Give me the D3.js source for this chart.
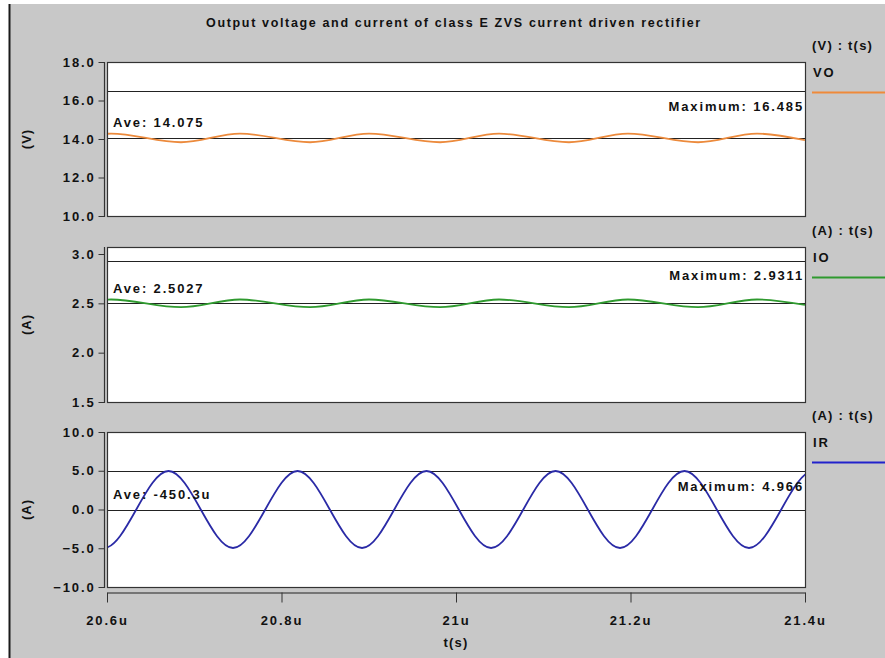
<!DOCTYPE html>
<html>
<head>
<meta charset="utf-8">
<script src="https://cdn.jsdelivr.net/npm/d3@7"></script>
<style>
  html, body { margin: 0; padding: 0; background: #ffffff; }
  svg { display: block; }
  text { font-family: "Liberation Sans", Arial, Helvetica, sans-serif; font-weight: bold; fill: #111; }
</style>
</head>
<body>
<svg id="chart" width="885" height="658"></svg>
<script>
// ---- data ----
const chartTitle = "Output voltage and current of class E ZVS current driven rectifier";
const timeTicks = [20.6, 20.8, 21.0, 21.2, 21.4];          // microseconds
const timeTickLabels = ["20.6u", "20.8u", "21u", "21.2u", "21.4u"];
const timeAxisTitle = "t(s)";

const voTicks = [10, 12, 14, 16, 18];
const ioTicks = [1.5, 2.0, 2.5, 3.0];
const irTicks = [-10, -5, 0, 5, 10];

// output ripple: start, alternating maxima / minima, end (us)
const rippleTime = [20.6, 20.6046, 20.6848, 20.7524, 20.8327, 20.9003, 20.9817,
                    21.0493, 21.1295, 21.1971, 21.2774, 21.3450, 21.4];
const voValue = [14.27, 14.28, 13.83, 14.28, 13.83, 14.28, 13.83,
                 14.28, 13.83, 14.28, 13.83, 14.28, 13.94];
const ioValue = [2.537, 2.539, 2.461, 2.539, 2.461, 2.539, 2.461,
                 2.539, 2.461, 2.539, 2.461, 2.539, 2.485];

// rectifier input current: alternating crests / troughs (us), one extra each side of the window
const irTime = [20.5227, 20.5966, 20.6705, 20.7444, 20.8184, 20.8923, 20.9662, 21.0402,
                21.1141, 21.1880, 21.2619, 21.3358, 21.4097, 21.4836];
const irValue = [4.966, -4.966, 4.966, -4.966, 4.966, -4.966, 4.966, -4.966,
                 4.966, -4.966, 4.966, -4.966, 4.966, -4.966];

const traceNames = ["VO", "IO", "IR"];
const unitLabels = ["(V)", "(A)", "(A)"];
const legendHeaders = ["(V) : t(s)", "(A) : t(s)", "(A) : t(s)"];
const aveValues = [14.075, 2.5027, -450.3e-6];
const aveLabels = ["Ave: 14.075", "Ave: 2.5027", "Ave: -450.3u"];
const maxValues = [16.485, 2.9311, 4.966];
const maxLabels = ["Maximum: 16.485", "Maximum: 2.9311", "Maximum: 4.966"];
const traceColors = ["#ec8a3c", "#2f9a2f", "#2a2aa6"];
const legendColors = ["#ef8a3a", "#2f9a2f", "#2222cc"];

// ---- layout ----
const W = 885, H = 658;
const plotLeft = 107, plotRight = 805;
const panels = [
  { top: 62,  bottom: 216, domain: [10, 18],   range: [216, 62],  ticks: voTicks, time: rippleTime, values: voValue },
  { top: 247, bottom: 402, domain: [1.5, 3.0], range: [402, 254], ticks: ioTicks, time: rippleTime, values: ioValue },
  { top: 432, bottom: 587, domain: [-10, 10],  range: [587, 432], ticks: irTicks, time: irTime,     values: irValue }
];

const svg = d3.select("#chart");
const LS = "1.85px";

// window frame
svg.append("rect").attr("x", 10).attr("y", 4).attr("width", W - 10).attr("height", H - 4)
  .attr("fill", "#c8c8c8");
svg.append("line").attr("x1", 9.5).attr("x2", 9.5).attr("y1", 4).attr("y2", H)
  .attr("stroke", "#1a1a1a").attr("stroke-width", 2);

// title
svg.append("text").attr("x", 454).attr("y", 27).attr("text-anchor", "middle")
  .attr("font-size", "12.5px").style("letter-spacing", "1.65px").text(chartTitle);

const x = d3.scaleLinear().domain([timeTicks[0], timeTicks[timeTicks.length - 1]]).range([plotLeft, plotRight]);

panels.forEach((p, i) => {
  const y = d3.scaleLinear().domain(p.domain).range(p.range);
  const g = svg.append("g");

  // plot box
  g.append("rect").attr("x", plotLeft + 0.5).attr("y", p.top + 0.5)
    .attr("width", plotRight - plotLeft).attr("height", p.bottom - p.top)
    .attr("fill", "#ffffff").attr("stroke", "#333").attr("stroke-width", 1.2);

  // y axis
  const yAxis = d3.axisLeft(y).tickValues(p.ticks).tickSize(6).tickSizeOuter(0).tickPadding(3)
    .tickFormat(d3.format(".1f"));
  const ag = g.append("g").attr("transform", `translate(104.5,0)`).call(yAxis);
  ag.select(".domain").remove();
  ag.selectAll(".tick line").attr("stroke", "#333");
  ag.selectAll(".tick text").attr("font-size", "13px").style("letter-spacing", LS)
    .attr("font-family", null).attr("fill", "#111");
  g.append("line").attr("x1", 104.5).attr("x2", 104.5).attr("y1", p.top).attr("y2", p.bottom + 1)
    .attr("stroke", "#333").attr("stroke-width", 1.2);

  // unit label
  const cy = (p.top + p.bottom) / 2;
  g.append("text").attr("transform", `translate(31,${cy}) rotate(-90)`).attr("text-anchor", "middle")
    .attr("font-size", "13px").style("letter-spacing", "1px").text(unitLabels[i]);

  // clip for the trace
  const clipId = "clip" + i;
  svg.append("clipPath").attr("id", clipId).append("rect")
    .attr("x", plotLeft + 1).attr("y", p.top + 1)
    .attr("width", plotRight - plotLeft - 1).attr("height", p.bottom - p.top - 1);

  // maximum and average markers
  [maxValues[i], aveValues[i]].forEach(v => {
    g.append("line").attr("x1", plotLeft + 1).attr("x2", plotRight)
      .attr("y1", Math.round(y(v)) + 0.5).attr("y2", Math.round(y(v)) + 0.5)
      .attr("stroke", "#222").attr("stroke-width", 1);
  });

  // trace
  const pts = p.time.map((t, k) => [t, p.values[k]]);
  const line = d3.line().x(d => x(d[0])).y(d => y(d[1])).curve(d3.curveMonotoneX);
  g.append("path").attr("d", line(pts)).attr("clip-path", `url(#${clipId})`)
    .attr("fill", "none").attr("stroke", traceColors[i]).attr("stroke-width", 1.8);

  // annotations
  g.append("text").attr("x", 113).attr("y", y(aveValues[i]) - 10.5)
    .attr("font-size", "13px").style("letter-spacing", LS).text(aveLabels[i]);
  g.append("text").attr("x", 804).attr("y", y(maxValues[i]) + 19.5).attr("text-anchor", "end")
    .attr("font-size", "13px").style("letter-spacing", LS).text(maxLabels[i]);

  // legend
  g.append("text").attr("x", 812).attr("y", p.top - 12)
    .attr("font-size", "13px").style("letter-spacing", "1.2px").text(legendHeaders[i]);
  g.append("text").attr("x", 813).attr("y", p.top + 15)
    .attr("font-size", "13px").style("letter-spacing", LS).text(traceNames[i]);
  g.append("line").attr("x1", 812).attr("x2", W).attr("y1", p.top + 30.5).attr("y2", p.top + 30.5)
    .attr("stroke", legendColors[i]).attr("stroke-width", 2);
});

// time axis
const xAxis = d3.axisBottom(x).tickValues(timeTicks).tickSize(10).tickSizeOuter(0).tickPadding(13)
  .tickFormat((d, k) => timeTickLabels[k]);
const xg = svg.append("g").attr("transform", "translate(0,592.5)").call(xAxis);
xg.select(".domain").attr("stroke", "#222").attr("stroke-width", 1.2);
xg.selectAll(".tick line").attr("stroke", "#333");
xg.selectAll(".tick text").attr("font-size", "13px").style("letter-spacing", LS)
  .attr("font-family", null).attr("fill", "#111");

svg.append("text").attr("x", 456).attr("y", 647).attr("text-anchor", "middle")
  .attr("font-size", "13px").style("letter-spacing", "1.2px").text(timeAxisTitle);
</script>
</body>
</html>
